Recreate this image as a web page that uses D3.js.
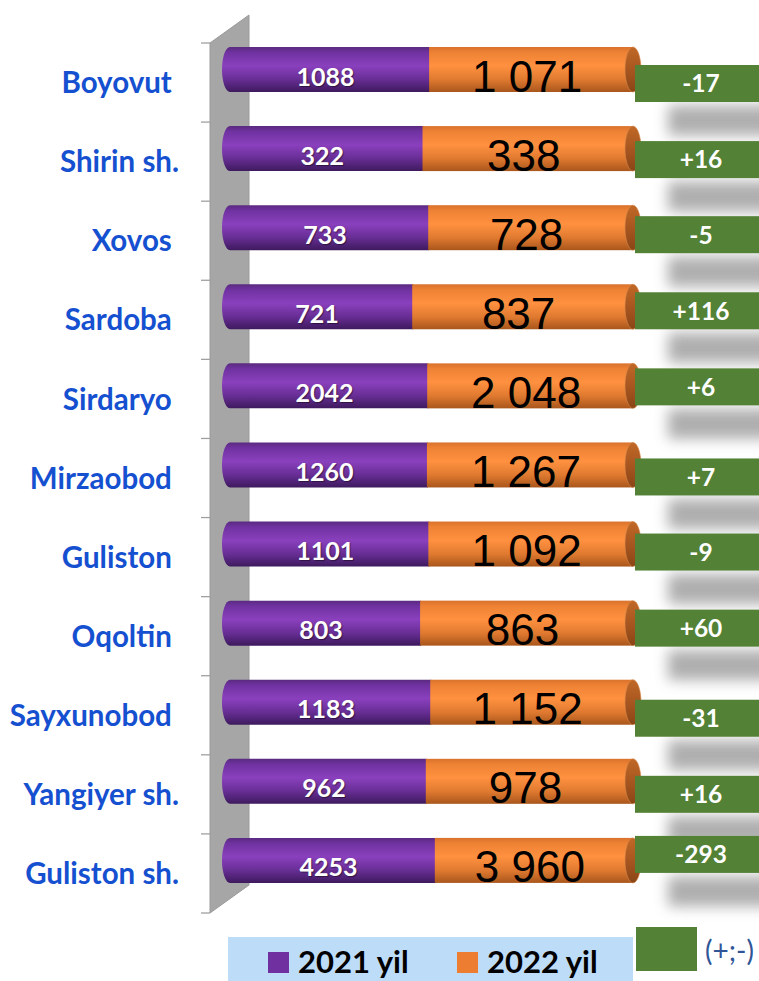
<!DOCTYPE html>
<html>
<head>
<meta charset="utf-8">
<script src="https://cdn.jsdelivr.net/npm/d3@7"></script>
<style>
  body { margin: 0; background: #fff; }
  svg { display: block; }
  text { white-space: pre; }
</style>
</head>
<body>
<div id="chart"></div>
<script>
var width = 759, height = 981

// data
var districts = ["Boyovut ", "Shirin sh.", "Xovos ", "Sardoba ", "Sirdaryo ", "Mirzaobod ",
  "Guliston ", "Oqoltin ", "Sayxunobod ", "Yangiyer sh.", "Guliston sh."]
var y2021 = [1088, 322, 733, 721, 2042, 1260, 1101, 803, 1183, 962, 4253]
var y2022 = [1071, 338, 728, 837, 2048, 1267, 1092, 863, 1152, 978, 3960]
var seriesNames = ["2021 yil", "2022 yil"]
// the green (+;-) labels were dragged by hand, these are their nudges off the bar
var diffNudge = [14, 11, 7, 4, 1, 12, 8, 5, 16, 13, -6]

var rows = districts.map(function(d, i) {
  return { name: d, a: y2021[i], b: y2022[i], diff: y2022[i] - y2021[i], nudge: diffNudge[i] }
})

var svg = d3.select("#chart").append("svg")
  .attr("width", width)
  .attr("height", height)

var defs = svg.append("defs")

function cylGrad(id, stops) {
  var g = defs.append("linearGradient").attr("id", id)
    .attr("x1", 0).attr("y1", 0).attr("x2", 0).attr("y2", 1)
  stops.forEach(function(s) {
    g.append("stop").attr("offset", s[0]).attr("stop-color", s[1])
  })
}
cylGrad("gPurple", [[0, "#5a2a80"], [0.12, "#6f32a0"], [0.42, "#8a40bd"], [0.7, "#6a2f98"], [1, "#3e1a5e"]])
cylGrad("gOrange", [[0, "#d9722c"], [0.12, "#ee8234"], [0.42, "#ff9140"], [0.72, "#e07a30"], [1, "#a9561c"]])
cylGrad("gCap", [[0, "#c06826"], [0.5, "#a85620"], [1, "#8a4516"]])

defs.append("filter").attr("id", "blur")
  .attr("x", -0.4).attr("y", -0.8).attr("width", 1.8).attr("height", 2.6)
  .append("feGaussianBlur").attr("stdDeviation", 7)

var font = "Lato, 'Open Sans', sans-serif"

var y = d3.scaleBand()
  .domain(districts)
  .range([43, 913])

var x = d3.scaleLinear()
  .domain([0, 1])
  .range([222, 633])

var fmt = d3.formatLocale({ decimal: ",", thousands: " ", grouping: [3], currency: ["", ""] }).format(",d")

// grey wall
svg.append("path")
  .attr("d", "M210,43 L249,15 L249,885 L210,913 Z")
  .attr("fill", "#a6a6a6")
  .attr("stroke", "#9a9a9a")

// tick marks
var ticks = districts.map(function(d) { return y(d) }).concat([913])
svg.selectAll(".tick")
  .data(ticks)
  .enter().append("line")
    .attr("x1", 201).attr("x2", 210)
    .attr("y1", function(d) { return d }).attr("y2", function(d) { return d })
    .attr("stroke", "#a0a0a0")
    .attr("stroke-width", 1.3)

// category names
svg.selectAll(".name")
  .data(rows)
  .enter().append("text")
    .attr("x", 179)
    .attr("y", function(d) { return y(d.name) + y.bandwidth() / 2 })
    .attr("dy", "0.36em")
    .attr("text-anchor", "end")
    .attr("font-family", font)
    .attr("font-weight", "bold")
    .attr("font-size", 29.5)
    .attr("fill", "#1550d0")
    .text(function(d) { return d.name })

// shadows behind the green boxes
var barH = 45
function barC(d) { return y(d.name) + 4 + barH / 2 }

svg.selectAll(".shadow")
  .data(rows)
  .enter().append("rect")
    .attr("x", 668)
    .attr("y", function(d) { return barC(d) + d.nudge + 22 })
    .attr("width", 130)
    .attr("height", 30)
    .attr("fill", "#a0a0a0")
    .attr("opacity", 0.85)
    .attr("filter", "url(#blur)")

var rx = 8
var bar = svg.selectAll(".bar")
  .data(rows)
  .enter().append("g")

// purple part
bar.append("path")
  .attr("d", function(d) {
    var c = barC(d), t = c - barH / 2, x0 = x(0), x1 = x(d.a / (d.a + d.b)) + 1
    return "M" + x1 + "," + t + " L" + (x0 + rx) + "," + t +
      " A" + rx + "," + barH / 2 + " 0 0 0 " + (x0 + rx) + "," + (t + barH) +
      " L" + x1 + "," + (t + barH) + " Z"
  })
  .attr("fill", "url(#gPurple)")

// orange part
bar.append("rect")
  .attr("x", function(d) { return x(d.a / (d.a + d.b)) })
  .attr("y", function(d) { return barC(d) - barH / 2 })
  .attr("width", function(d) { return x(1) - x(d.a / (d.a + d.b)) })
  .attr("height", barH)
  .attr("fill", "url(#gOrange)")

// end cap
bar.append("ellipse")
  .attr("cx", x(1))
  .attr("cy", barC)
  .attr("rx", rx)
  .attr("ry", barH / 2)
  .attr("fill", "url(#gCap)")
  .attr("stroke", "#d98a4c")
  .attr("stroke-width", 0.6)

// 2021 labels
bar.append("text")
  .attr("x", function(d) { return (x(0) + x(d.a / (d.a + d.b))) / 2 })
  .attr("y", function(d) { return barC(d) + 7 })
  .attr("dy", "0.36em")
  .attr("text-anchor", "middle")
  .attr("font-family", font)
  .attr("font-weight", "bold")
  .attr("font-size", 25)
  .attr("fill", "#fff")
  .style("text-shadow", "1px 1px 1px rgba(0,0,0,0.45)")
  .text(function(d) { return d.a })

// 2022 labels
bar.append("text")
  .attr("x", function(d) { return (x(d.a / (d.a + d.b)) + x(1)) / 2 - 4 })
  .attr("y", function(d) { return barC(d) + 22 })
  .attr("text-anchor", "middle")
  .attr("font-family", "'Liberation Sans', Arial, sans-serif")
  .attr("font-size", 44)
  .attr("fill", "#000")
  .text(function(d) { return fmt(d.b) })

// green difference boxes
var diffG = svg.selectAll(".diff")
  .data(rows)
  .enter().append("g")

diffG.append("rect")
  .attr("x", 635)
  .attr("y", function(d) { return barC(d) + d.nudge - 18.5 })
  .attr("width", 130)
  .attr("height", 37)
  .attr("fill", "#538135")

diffG.append("text")
  .attr("x", 701)
  .attr("y", function(d) { return barC(d) + d.nudge })
  .attr("dy", "0.36em")
  .attr("text-anchor", "middle")
  .attr("font-family", font)
  .attr("font-weight", "bold")
  .attr("font-size", 24.5)
  .attr("fill", "#fff")
  .text(function(d) { return (d.diff > 0 ? "+" : "") + d.diff })

// legend
var legend = svg.append("g")
legend.append("rect")
  .attr("x", 228).attr("y", 937)
  .attr("width", 405).attr("height", 44)
  .attr("fill", "#bddcf8")

var legColors = ["#7030a0", "#ed7d31"]
var legX = [268, 457]
var item = legend.selectAll(".item")
  .data(seriesNames)
  .enter().append("g")
    .attr("transform", function(d, i) { return "translate(" + legX[i] + ",0)" })
item.append("rect")
  .attr("x", 0).attr("y", 952)
  .attr("width", 21).attr("height", 21)
  .attr("fill", function(d, i) { return legColors[i] })
item.append("text")
  .attr("x", 30).attr("y", 973)
  .attr("font-family", font)
  .attr("font-weight", "bold")
  .attr("font-size", 31)
  .attr("fill", "#000")
  .text(function(d) { return d })

legend.append("rect")
  .attr("x", 636).attr("y", 927)
  .attr("width", 61).attr("height", 44)
  .attr("fill", "#538135")
legend.append("text")
  .attr("x", 705).attr("y", 951)
  .attr("dy", "0.35em")
  .attr("font-family", font)
  .attr("font-size", 28)
  .attr("fill", "#2f5597")
  .text("(+;-)")
</script>
</body>
</html>
